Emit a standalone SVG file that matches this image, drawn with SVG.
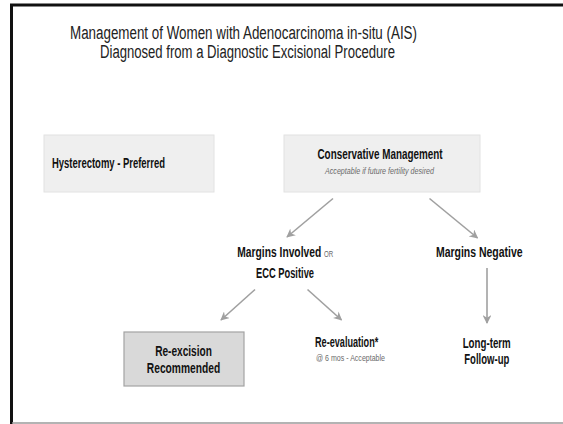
<svg xmlns="http://www.w3.org/2000/svg" width="563" height="424" viewBox="0 0 563 424">
  <style>
    .title { font-family: "Liberation Sans Narrow", "Liberation Sans", Arial, sans-serif; font-size: 18px; fill: #222; }
    .lbl { font-family: "Liberation Sans Narrow", "Liberation Sans", Arial, sans-serif; font-size: 15px; font-weight: bold; fill: #111; }
    .note { font-family: "Liberation Sans Narrow", "Liberation Sans", Arial, sans-serif; font-size: 9.5px; fill: #6a6a6a; }
    .box { fill: #efefef; stroke: #e2e2e2; stroke-width: 1; }
    .box-em { fill: #d9d9d9; stroke: #a3a3a3; stroke-width: 1.2; }
    .edge { stroke: #a0a0a0; stroke-width: 1.6; fill: none; marker-end: url(#head); }
  </style>
  <defs>
    <marker id="head" viewBox="0 0 10 10" refX="9" refY="5" markerWidth="5.5" markerHeight="5.5" orient="auto" markerUnits="strokeWidth">
      <path d="M0,0 L10,5 L0,10 L3,5 Z" fill="#a0a0a0"/>
    </marker>
  </defs>

  <rect width="563" height="424" fill="#ffffff"/>
  <!-- page frame -->
  <path d="M11.5,424 V5 H563" fill="none" stroke="#111" stroke-width="3"/>
  <line x1="12" y1="423" x2="563" y2="423" stroke="#9a9a9a" stroke-width="1.5"/>

  <g id="title">
    <text class="title" x="243.5" y="38.5" text-anchor="middle" textLength="347" lengthAdjust="spacingAndGlyphs">Management of Women with Adenocarcinoma in-situ (AIS)</text>
    <text class="title" x="247.5" y="57.5" text-anchor="middle" textLength="295" lengthAdjust="spacingAndGlyphs">Diagnosed from a Diagnostic Excisional Procedure</text>
  </g>

  <g id="connectors">
    <line class="edge" x1="333" y1="198.5" x2="287" y2="237"/>
    <line class="edge" x1="429.5" y1="198.5" x2="477.5" y2="238"/>
    <line class="edge" x1="487" y1="268" x2="487" y2="323"/>
    <line class="edge" x1="255" y1="289.5" x2="221" y2="320"/>
    <line class="edge" x1="307.5" y1="289.5" x2="341.5" y2="320"/>
  </g>

  <g id="hysterectomy">
    <rect class="box" x="44" y="135" width="170" height="57"/>
    <text class="lbl" x="52" y="168" textLength="113" lengthAdjust="spacingAndGlyphs">Hysterectomy - Preferred</text>
  </g>

  <g id="conservative">
    <rect class="box" x="284" y="135" width="196" height="57"/>
    <text class="lbl" x="380" y="158.5" text-anchor="middle" textLength="125" lengthAdjust="spacingAndGlyphs">Conservative Management</text>
    <text class="note" x="379.5" y="174" text-anchor="middle" font-style="italic" textLength="109" lengthAdjust="spacingAndGlyphs">Acceptable if future fertility desired</text>
  </g>

  <g id="margins-involved">
    <text class="lbl" x="237.3" y="257" textLength="96" lengthAdjust="spacingAndGlyphs">Margins Involved <tspan font-size="9px" font-weight="normal" fill="#6a6a6a">OR</tspan></text>
    <text class="lbl" x="285" y="277.5" text-anchor="middle" textLength="58" lengthAdjust="spacingAndGlyphs">ECC Positive</text>
  </g>

  <g id="margins-negative">
    <text class="lbl" x="479.3" y="257" text-anchor="middle" textLength="86.7" lengthAdjust="spacingAndGlyphs">Margins Negative</text>
  </g>

  <g id="re-excision">
    <rect class="box-em" x="124" y="332" width="120" height="54"/>
    <text class="lbl" x="183.5" y="355.5" text-anchor="middle" textLength="56.7" lengthAdjust="spacingAndGlyphs">Re-excision</text>
    <text class="lbl" x="183.5" y="373" text-anchor="middle" textLength="73.3" lengthAdjust="spacingAndGlyphs">Recommended</text>
  </g>

  <g id="re-evaluation">
    <text class="lbl" x="315" y="347" textLength="63.3" lengthAdjust="spacingAndGlyphs">Re-evaluation*</text>
    <text class="note" x="350.5" y="360.5" text-anchor="middle" font-size="9px" textLength="69" lengthAdjust="spacingAndGlyphs">@ 6 mos - Acceptable</text>
  </g>

  <g id="follow-up">
    <text class="lbl" x="486.7" y="347.5" text-anchor="middle" textLength="48" lengthAdjust="spacingAndGlyphs">Long-term</text>
    <text class="lbl" x="486.8" y="363.5" text-anchor="middle" textLength="45" lengthAdjust="spacingAndGlyphs">Follow-up</text>
  </g>
</svg>
